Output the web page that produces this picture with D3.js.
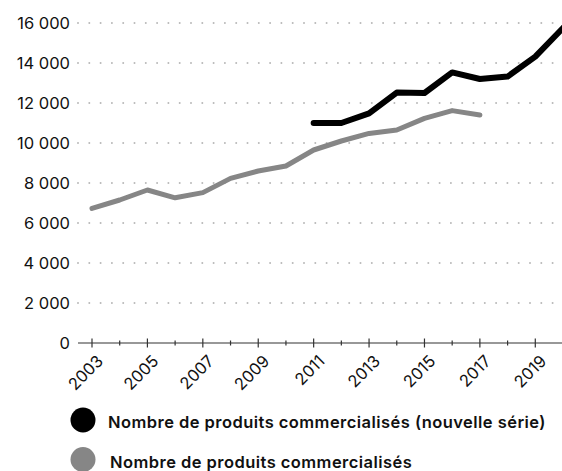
<!DOCTYPE html>
<html>
<head>
<meta charset="utf-8">
<script src="https://cdn.jsdelivr.net/npm/d3@7"></script>
<style>
  html, body { margin: 0; padding: 0; background: #fff; }
  svg { display: block; font-family: "Inter", sans-serif; }
</style>
</head>
<body>
<svg id="chart" width="562" height="471"></svg>
<script>
// Années et séries (nombre de produits commercialisés)
const years = d3.range(2003, 2021);
const newSeriesYears = [2011, 2012, 2013, 2014, 2015, 2016, 2017, 2018, 2019, 2020];
const newSeriesValues = [11000, 11000, 11480, 12520, 12500, 13530, 13200, 13320, 14320, 15750];
const oldSeriesYears = [2003, 2004, 2005, 2006, 2007, 2008, 2009, 2010, 2011, 2012, 2013, 2014, 2015, 2016, 2017];
const oldSeriesValues = [6730, 7150, 7650, 7260, 7520, 8230, 8600, 8850, 9650, 10100, 10480, 10650, 11230, 11620, 11400];
const yTicks = [0, 2000, 4000, 6000, 8000, 10000, 12000, 14000, 16000];
const xLabelYears = [2003, 2005, 2007, 2009, 2011, 2013, 2015, 2017, 2019];
const legendLabels = [
  "Nombre de produits commercialisés (nouvelle série)",
  "Nombre de produits commercialisés"
];
const seriesColors = ["#000000", "#868686"];

const svg = d3.select("#chart");

const x = d3.scaleLinear().domain([2003, 2020]).range([92, 563]);
const y = d3.scaleLinear().domain([0, 16000]).range([343, 23]);

const fmt = v => v === 0 ? "0" : d3.format(",")(v).replace(/,/g, "\u00a0");

// Grille pointillée horizontale
svg.append("g")
  .selectAll("line")
  .data(yTicks.filter(d => d > 0))
  .join("line")
  .attr("x1", 78).attr("x2", 562)
  .attr("y1", d => y(d)).attr("y2", d => y(d))
  .attr("stroke", "#b9b9b9")
  .attr("stroke-width", 2)
  .attr("stroke-linecap", "round")
  .attr("stroke-dasharray", "0 11.3");

// Étiquettes de l'axe vertical
svg.append("g")
  .selectAll("text")
  .data(yTicks)
  .join("text")
  .attr("x", 70)
  .attr("y", d => y(d))
  .attr("dy", "0.36em")
  .attr("text-anchor", "end")
  .attr("font-size", 16.5)
  .attr("fill", "#111")
  .text(fmt);

// Axe horizontal
const xAxis = svg.append("g");
xAxis.append("line")
  .attr("x1", 78).attr("x2", 562)
  .attr("y1", y(0)).attr("y2", y(0))
  .attr("stroke", "#333").attr("stroke-width", 1.2);
xAxis.selectAll("line.tick")
  .data(years)
  .join("line")
  .attr("class", "tick")
  .attr("x1", d => x(d)).attr("x2", d => x(d))
  .attr("y1", d => y(0) - (d % 2 ? 4.5 : 2.5))
  .attr("y2", d => y(0) + (d % 2 ? 4.5 : 2.5))
  .attr("stroke", "#333").attr("stroke-width", 1.2);
xAxis.selectAll("text")
  .data(xLabelYears)
  .join("text")
  .attr("transform", d => `translate(${x(d) + 4},${y(0) + 11}) rotate(-45)`)
  .attr("text-anchor", "end")
  .attr("dy", "0.7em")
  .attr("font-size", 16.5)
  .attr("fill", "#111")
  .text(d => d);

// Courbes
const line = d3.line().x(d => x(d[0])).y(d => y(d[1]));

svg.append("path")
  .datum(d3.zip(oldSeriesYears, oldSeriesValues))
  .attr("d", line)
  .attr("fill", "none")
  .attr("stroke", seriesColors[1])
  .attr("stroke-width", 5)
  .attr("stroke-linejoin", "round")
  .attr("stroke-linecap", "round");

svg.append("path")
  .datum(d3.zip(newSeriesYears, newSeriesValues))
  .attr("d", line)
  .attr("fill", "none")
  .attr("stroke", seriesColors[0])
  .attr("stroke-width", 6)
  .attr("stroke-linejoin", "round")
  .attr("stroke-linecap", "round");

// Légende
const legend = svg.append("g");
const legendRows = legend.selectAll("g")
  .data(legendLabels)
  .join("g")
  .attr("transform", (d, i) => `translate(83,${420 + i * 39.5})`);
legendRows.append("circle")
  .attr("r", 12.5)
  .attr("fill", (d, i) => seriesColors[i]);
legendRows.append("text")
  .attr("x", (d, i) => i ? 27 : 25)
  .attr("y", 8)
  .attr("font-size", 16.5)
  .attr("font-weight", 600)
  .attr("letter-spacing", 0.45)
  .attr("fill", "#111")
  .text(d => d);
</script>
</body>
</html>
